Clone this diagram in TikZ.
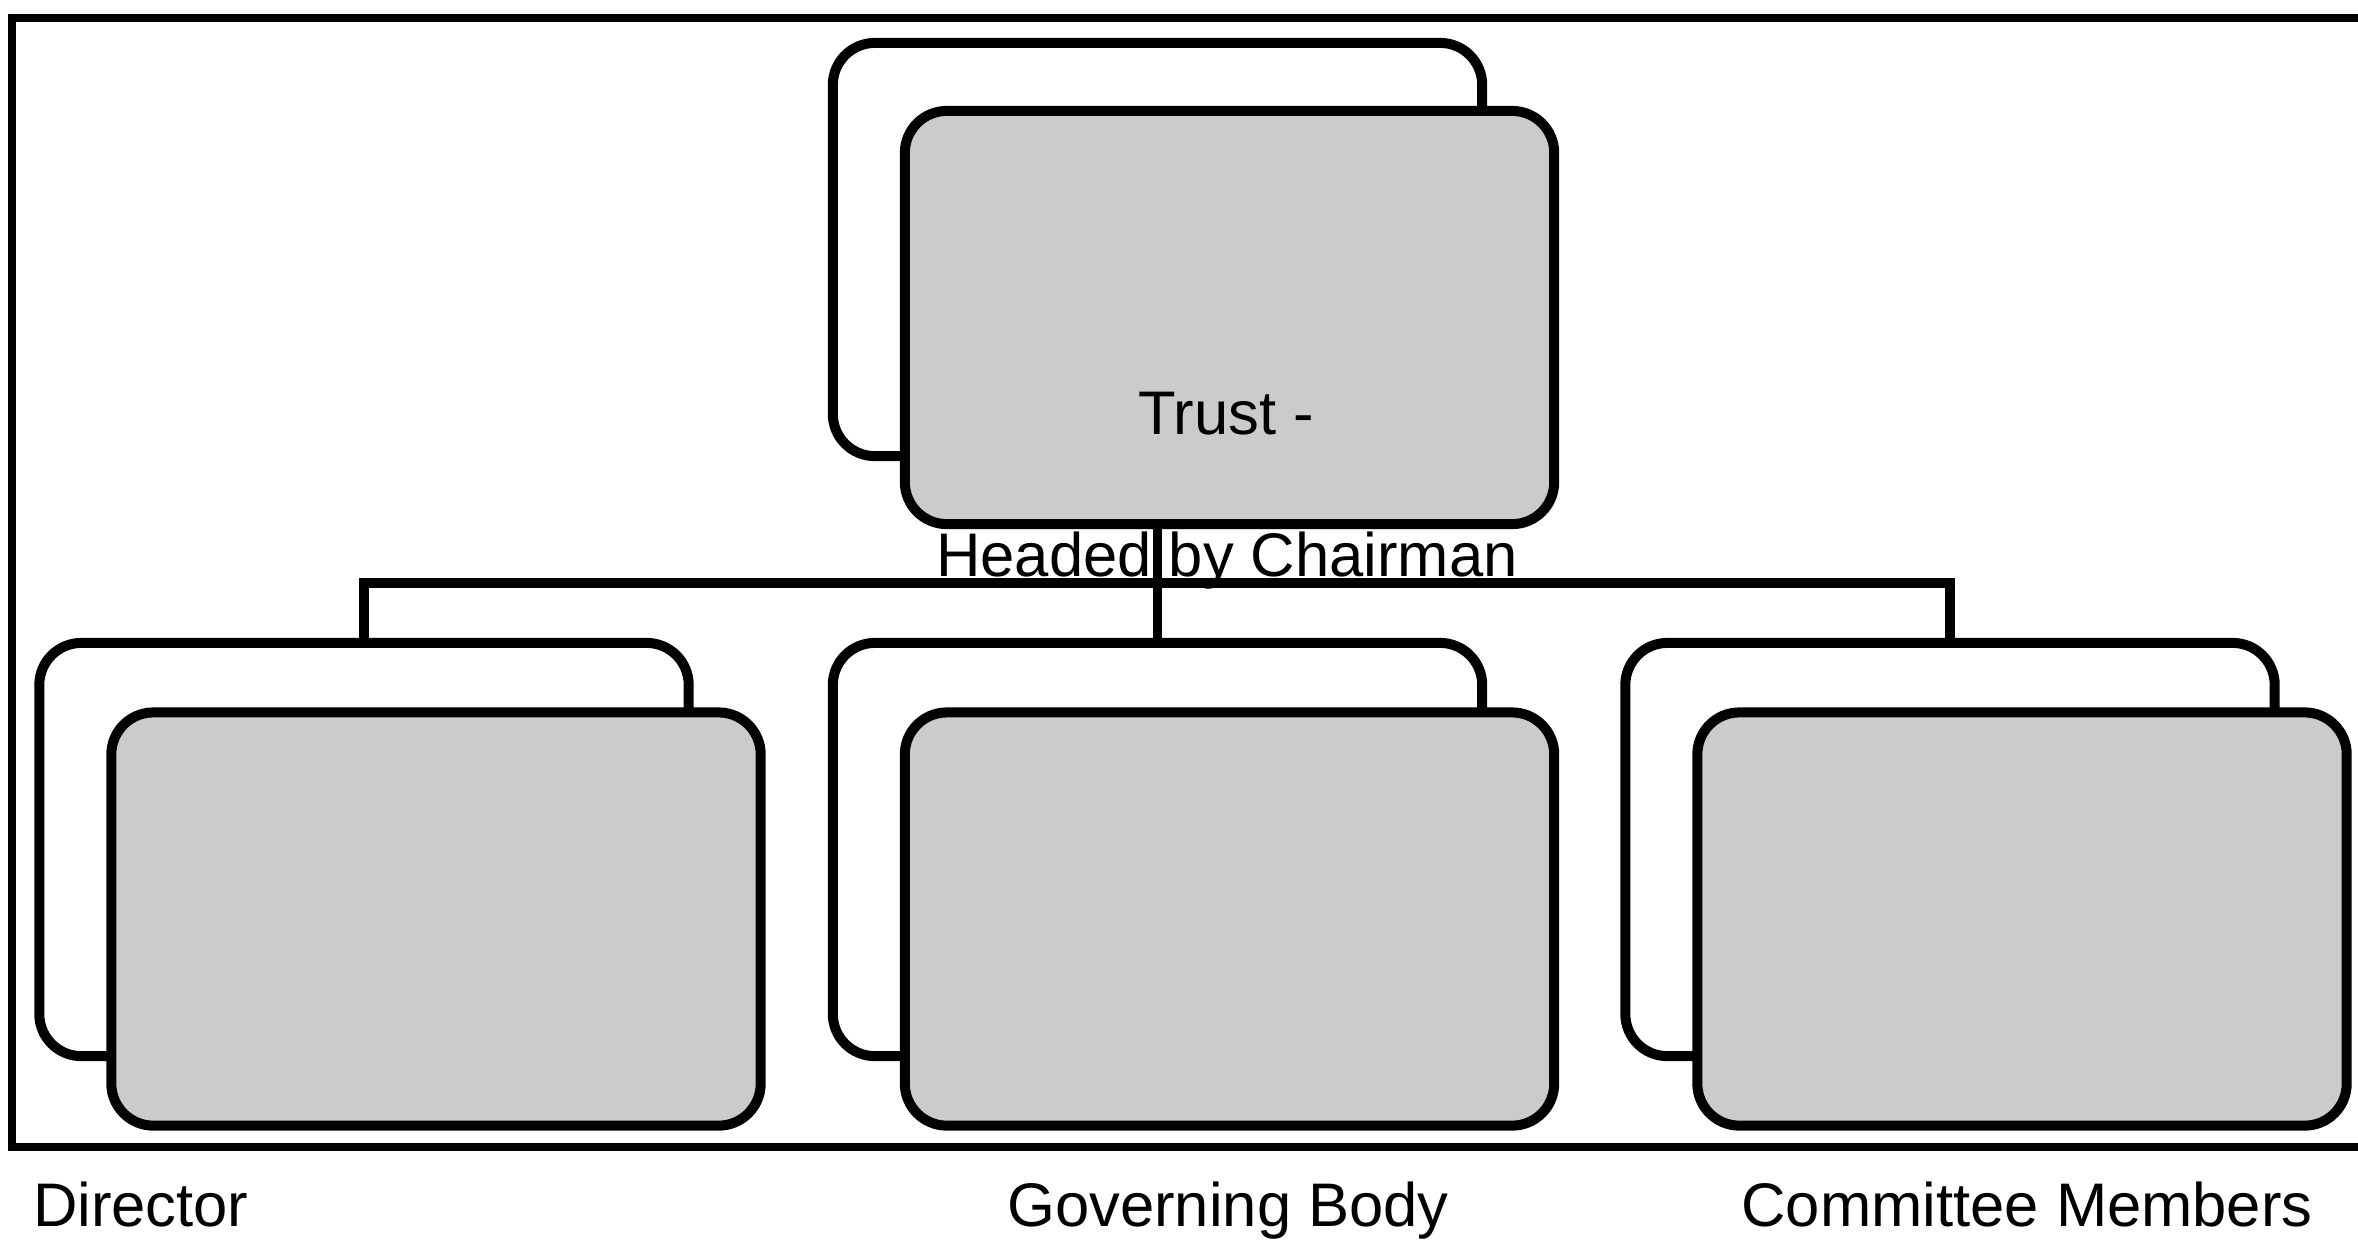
\documentclass[tikz,border=0pt]{standalone}
\usepackage{fontspec}
\setmainfont{Liberation Sans}
\definecolor{boxgray}{HTML}{CBCBCB}
\begin{document}
\begin{tikzpicture}[x=0.01cm,y=-0.01cm,
  backbox/.style={draw=black,fill=white,line width=0.1cm,rounded corners=0.42cm,
    minimum width=6.49cm,minimum height=4.13cm,inner sep=0pt,outer sep=0pt},
  frontbox/.style={backbox,fill=boxgray},
  conn/.style={draw=black,line width=0.095cm},
  frameline/.style={draw=black,line width=0.075cm},
  lbl/.style={font=\fontsize{17.5}{21}\selectfont,inner sep=0pt,outer sep=0pt}]
\useasboundingbox (0,0) rectangle (2358,1244);
% frame
\coordinate (fTR) at (2358,18);
\coordinate (fTL) at (12,18);
\coordinate (fBL) at (12,1147);
\coordinate (fBR) at (2358,1147);
\draw[frameline] (fTR) -- (fTL) -- (fBL) -- (fBR);
% back boxes
\node[backbox] (topback) at (1157.5,249.5) {};
\node[backbox] (lback) at (364,849.5) {};
\node[backbox] (mback) at (1157.5,849.5) {};
\node[backbox] (rback) at (1950,849.5) {};
\coordinate (bus) at (0,583);
% connectors
\draw[conn] (topback.south) -- (mback.north);
\draw[conn] (lback.north) -- (lback.north |- bus) -- (rback.north |- bus) -- (rback.north);
% front boxes
\node[frontbox] (topfront) at (1229.5,317.5) {};
\node[frontbox] (lfront) at (436,919) {};
\node[frontbox] (mfront) at (1229.5,919) {};
\node[frontbox] (rfront) at (2022,919) {};
% labels
\node[lbl,anchor=base] (t1) at (1226,434) {Trust -};
\node[lbl,anchor=base] (t2) at (1227,576) {Headed by Chairman};
\node[lbl,anchor=base west] (t3) at (33,1226) {Director};
\node[lbl,anchor=base] (t4) at (1228,1226) {Governing Body};
\node[lbl,anchor=base] (t5) at (2027,1226) {Committee Members};
\end{tikzpicture}
\end{document}
